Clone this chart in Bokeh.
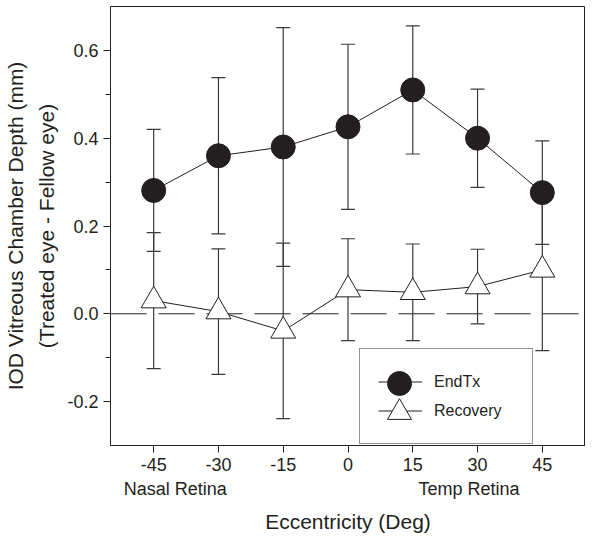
from bokeh.plotting import figure
from bokeh.models import (ColumnDataSource, Whisker, TeeHead, Span, Legend, LegendItem,
                          LinearAxis, FixedTicker, NumeralTickFormatter, Range1d)
from bokeh.embed import file_html
from bokeh.resources import INLINE

# ---- data ----
ecc = [-45, -30, -15, 0, 15, 30, 45]
endtx_mean = [0.281, 0.360, 0.380, 0.426, 0.510, 0.400, 0.276]
endtx_err = [0.139, 0.178, 0.272, 0.188, 0.146, 0.112, 0.118]
recovery_mean = [0.030, 0.005, -0.039, 0.055, 0.049, 0.062, 0.100]
recovery_err = [0.155, 0.143, 0.200, 0.116, 0.110, 0.085, 0.184]

x_ticks = [-45, -30, -15, 0, 15, 30, 45]
y_ticks = [-0.2, 0.0, 0.2, 0.4, 0.6]
y_minor_ticks = [-0.1, 0.1, 0.3, 0.5]
region_pos = [-40, 28]
region_labels = ["Nasal Retina", "Temp Retina"]

INK = "#231f20"
FONT = "Liberation Sans"

src_e = ColumnDataSource(dict(
    x=ecc, y=endtx_mean,
    lo=[m - e for m, e in zip(endtx_mean, endtx_err)],
    hi=[m + e for m, e in zip(endtx_mean, endtx_err)]))
src_r = ColumnDataSource(dict(
    x=ecc, y=recovery_mean,
    lo=[m - e for m, e in zip(recovery_mean, recovery_err)],
    hi=[m + e for m, e in zip(recovery_mean, recovery_err)]))

p = figure(width=585, height=535, x_range=Range1d(-55, 55), y_range=Range1d(-0.3, 0.7),
           output_backend="svg", toolbar_location=None, min_border=0,
           min_border_left=110, min_border_right=0, min_border_top=6, min_border_bottom=0)
p.grid.visible = False
p.outline_line_color = INK
p.outline_line_width = 1
p.background_fill_color = "white"
p.border_fill_color = "white"


def style_axis(ax):
    ax.axis_line_color = INK
    ax.major_tick_line_color = INK
    ax.minor_tick_line_color = INK
    ax.major_label_text_font = FONT
    ax.major_label_text_font_size = "18px"
    ax.major_label_text_color = INK
    ax.axis_label_text_font = FONT
    ax.axis_label_text_font_size = "21px"
    ax.axis_label_text_font_style = "normal"
    ax.axis_label_text_color = INK


# bottom axis
xa = p.xaxis[0]
style_axis(xa)
xa.ticker = FixedTicker(ticks=x_ticks)
xa.formatter = NumeralTickFormatter(format="0")
xa.major_tick_in = 0
xa.major_tick_out = 7
xa.minor_tick_line_color = None
xa.major_label_standoff = 5

# second bottom axis: region names + title
xa2 = LinearAxis(ticker=FixedTicker(ticks=region_pos),
                 major_label_overrides=dict(zip(region_pos, region_labels)))
style_axis(xa2)
xa2.axis_line_color = None
xa2.major_tick_line_color = None
xa2.minor_tick_line_color = None
xa2.major_tick_out = 0
xa2.major_label_standoff = 5
xa2.axis_label = "Eccentricity (Deg)"
xa2.axis_label_standoff = 8
p.add_layout(xa2, "below")

# left axis
ya = p.yaxis[0]
style_axis(ya)
ya.ticker = FixedTicker(ticks=y_ticks, minor_ticks=y_minor_ticks)
ya.formatter = NumeralTickFormatter(format="0.0")
ya.major_tick_in = 0
ya.major_tick_out = 7
ya.minor_tick_in = 0
ya.minor_tick_out = 5
ya.major_label_standoff = 5
ya.axis_label = "(Treated eye - Fellow eye)"
ya.axis_label_standoff = 6

ya2 = LinearAxis(ticker=FixedTicker(ticks=[]))
style_axis(ya2)
ya2.axis_line_color = None
ya2.major_tick_line_color = None
ya2.minor_tick_line_color = None
ya2.major_tick_out = 0
ya2.minor_tick_out = 0
ya2.major_label_standoff = 0
ya2.axis_label = "IOD Vitreous Chamber Depth (mm)"
ya2.axis_label_standoff = 6
p.add_layout(ya2, "left")

# zero line
zero = Span(location=0, dimension="width", line_color=INK, line_width=1,
            line_dash="36 12", level="underlay")
p.add_layout(zero)

# error bars
for src in (src_e, src_r):
    w = Whisker(source=src, base="x", upper="hi", lower="lo", dimension="height",
                line_color="#3a3a3a", line_width=1.2, level="underlay",
                upper_head=TeeHead(size=14, line_color="#3a3a3a", line_width=1.2),
                lower_head=TeeHead(size=14, line_color="#3a3a3a", line_width=1.2))
    p.add_layout(w)

l_e = p.line("x", "y", source=src_e, line_color=INK, line_width=1)
s_e = p.scatter("x", "y", source=src_e, marker="circle", size=24,
                fill_color=INK, line_color=INK, line_width=1)
l_r = p.line("x", "y", source=src_r, line_color=INK, line_width=1)
s_r = p.scatter("x", "y", source=src_r, marker="triangle", size=25,
                fill_color="white", line_color=INK, line_width=1)

# legend box (lines + labels)
LX, LY = 249, 1
legend = Legend(items=[LegendItem(label="EndTx", renderers=[l_e, s_e]),
                       LegendItem(label="Recovery", renderers=[l_r, s_r])],
                location=(LX, LY), glyph_width=44, glyph_height=29, padding=18,
                spacing=0, label_standoff=12, label_width=80, margin=0,
                border_line_color=INK, border_line_width=1,
                background_fill_color="white", background_fill_alpha=1,
                label_text_font=FONT, label_text_font_size="16px",
                label_text_color=INK)
p.add_layout(legend)

# full-size legend markers laid over the box
for rend, dy in ((s_e, 31), (s_r, 2)):
    ov = Legend(items=[LegendItem(label="", renderers=[rend])],
                location=(LX + 10, LY + dy), glyph_width=60, glyph_height=60,
                padding=0, spacing=0, label_standoff=0, label_width=0, margin=0,
                border_line_color=None, background_fill_alpha=0,
                label_text_font=FONT, label_text_font_size="16px")
    p.add_layout(ov)

open("out.html", "w").write(file_html(p, INLINE))
